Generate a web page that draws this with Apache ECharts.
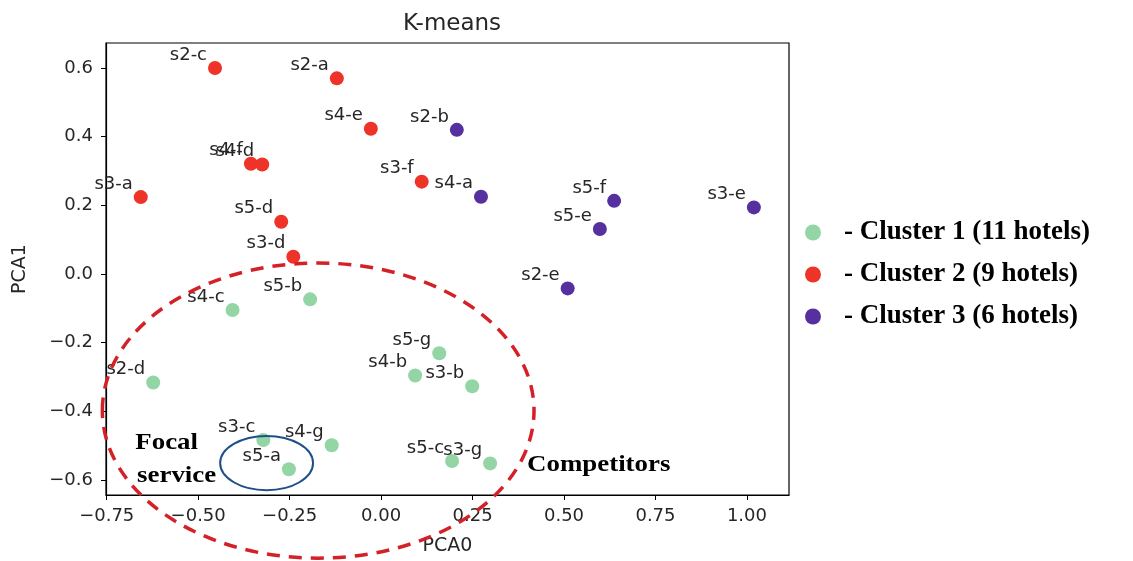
<!DOCTYPE html>
<html><head><meta charset="utf-8">
<script src="https://cdn.jsdelivr.net/npm/echarts@6/dist/echarts.min.js"></script>
<style>html,body{margin:0;padding:0;background:#fff}#c{width:1133px;height:561px}</style>
</head><body><div id="c"></div>
<script>
// ---- data ----
const cluster1Names = ['s4-c','s5-b','s2-d','s3-c','s5-a','s4-g','s5-g','s4-b','s3-b','s5-c','s3-g'];
const cluster1X = [-0.406,-0.194,-0.623,-0.322,-0.252,-0.135,0.159,0.093,0.249,0.194,0.298];
const cluster1Y = [-0.105,-0.074,-0.316,-0.484,-0.569,-0.499,-0.231,-0.296,-0.327,-0.545,-0.552];

const cluster2Names = ['s2-c','s2-a','s4-e','s4-f','s4-d','s3-a','s5-d','s3-d','s3-f'];
const cluster2X = [-0.454,-0.121,-0.028,-0.356,-0.325,-0.657,-0.273,-0.240,0.111];
const cluster2Y = [0.600,0.570,0.423,0.321,0.319,0.224,0.152,0.050,0.269];

const cluster3Names = ['s2-b','s4-a','s5-f','s5-e','s3-e','s2-e'];
const cluster3X = [0.207,0.273,0.637,0.598,1.019,0.510];
const cluster3Y = [0.420,0.225,0.213,0.131,0.194,-0.042];

const seriesNames = ['- Cluster 1 (11 hotels)','- Cluster 2 (9 hotels)','- Cluster 3 (6 hotels)'];
const seriesColors = ['#93d5a5','#ee3328','#55309e'];

const xTicks = [-0.75,-0.5,-0.25,0,0.25,0.5,0.75,1.0];
const yTicks = [-0.6,-0.4,-0.2,0,0.2,0.4,0.6];
const xRange = [-0.752, 1.115];
const yRange = [-0.644, 0.673];

// annotations in data units: [cx, cy, rx, ry]
const groupEllipse = [-0.172, -0.398, 0.590, 0.430];
const focalEllipse = [-0.313, -0.551, 0.127, 0.079];
// annotation texts: [text, x, y(bottom)]
const noteFocal = ['Focal', -0.672, -0.528];
const noteService = ['service', -0.667, -0.624];
const noteComp = ['Competitors', 0.399, -0.592];

// ---- chart ----
const fmt = v => (v < 0 ? '\u2212' : '') + Math.abs(v).toFixed(2);
const fmtY = v => (v < 0 ? '\u2212' : '') + Math.abs(v).toFixed(1);
const tickFont = {fontFamily: 'DejaVu Sans', fontSize: 18, color: '#262626'};

function makeSeries(i, names, xs, ys) {
  return {
    name: seriesNames[i],
    type: 'scatter',
    symbol: 'circle',
    symbolSize: 14,
    itemStyle: {color: seriesColors[i], opacity: 1},
    data: names.map((n, k) => ({name: n, value: [xs[k], ys[k]]})),
    label: {
      show: true,
      formatter: p => p.name,
      position: 'left',
      distance: 1,
      align: 'right',
      verticalAlign: 'bottom',
      offset: [0, -4],
      fontFamily: 'DejaVu Sans',
      fontSize: 18,
      color: '#262626'
    },
    emphasis: {disabled: true}
  };
}

const chart = echarts.init(document.getElementById('c'), null, {renderer: 'canvas'});
chart.setOption({
  animation: false,
  backgroundColor: '#fff',
  title: {
    text: 'K-means', left: 447, top: 8, textAlign: 'center',
    textStyle: {fontFamily: 'DejaVu Sans', fontSize: 23, fontWeight: 'normal', color: '#262626'}
  },
  grid: {left: 106, top: 43, width: 683, height: 452, show: true, borderColor: '#000', borderWidth: 1.2,
         containLabel: false, outerBoundsMode: 'none'},
  legend: {
    orient: 'vertical', left: 800, top: 214, itemWidth: 52, itemHeight: 16, itemGap: 15,
    icon: 'circle', selectedMode: false,
    textStyle: {fontFamily: 'Liberation Serif', fontWeight: 'bold', fontSize: 27, color: '#000'}
  },
  xAxis: {
    type: 'value', min: xRange[0], max: xRange[1],
    name: 'PCA0', nameLocation: 'middle', nameGap: 42,
    nameTextStyle: {fontFamily: 'DejaVu Sans', fontSize: 19, color: '#262626'},
    axisLine: {show: true, onZero: false, lineStyle: {color: '#000', width: 1.2}},
    axisTick: {show: true, inside: false, length: 5, customValues: xTicks, lineStyle: {color: '#000'}},
    axisLabel: Object.assign({customValues: xTicks, formatter: fmt, margin: 12}, tickFont),
    splitLine: {show: false}
  },
  yAxis: {
    type: 'value', min: yRange[0], max: yRange[1],
    name: 'PCA1', nameLocation: 'middle', nameGap: 76, nameRotate: 90,
    nameTextStyle: {fontFamily: 'DejaVu Sans', fontSize: 19, color: '#262626'},
    axisLine: {show: true, onZero: false, lineStyle: {color: '#000', width: 1.2}},
    axisTick: {show: true, inside: false, length: 5, customValues: yTicks, lineStyle: {color: '#000'}},
    axisLabel: Object.assign({customValues: yTicks, formatter: fmtY, margin: 13}, tickFont),
    splitLine: {show: false}
  },
  series: [
    makeSeries(0, cluster1Names, cluster1X, cluster1Y),
    makeSeries(1, cluster2Names, cluster2X, cluster2Y),
    makeSeries(2, cluster3Names, cluster3X, cluster3Y)
  ]
});

function px(x, y) { return chart.convertToPixel({gridIndex: 0}, [x, y]); }
function ellipseEl(e, style) {
  const c = px(e[0], e[1]);
  const r = px(e[0] + e[2], e[1] + e[3]);
  return {type: 'ellipse', z: 100, silent: true,
    shape: {cx: c[0], cy: c[1], rx: Math.abs(r[0] - c[0]), ry: Math.abs(r[1] - c[1])},
    style: Object.assign({fill: null}, style)};
}
function noteEl(n) {
  const p = px(n[1], n[2]);
  return {type: 'text', z: 100, silent: true, x: p[0], y: p[1], scaleX: 1.12,
    style: {text: n[0], fill: '#000', font: 'bold 24px "Liberation Serif"', align: 'left', verticalAlign: 'bottom'}};
}
chart.setOption({
  graphic: [
    ellipseEl(groupEllipse, {stroke: '#d42027', lineWidth: 3.5, lineDash: [13, 9]}),
    ellipseEl(focalEllipse, {stroke: '#1f4f8a', lineWidth: 2}),
    noteEl(noteFocal), noteEl(noteService), noteEl(noteComp)
  ]
});
</script>
</body></html>
